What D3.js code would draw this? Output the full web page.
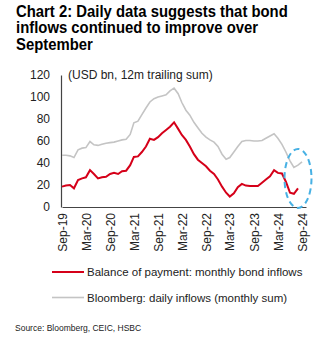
<!DOCTYPE html>
<meta charset="utf-8">
<style>
  body { margin: 0; background: #fff; }
  svg { display: block; font-family: "Liberation Sans", Arial, sans-serif; }
  .title { font-weight: bold; font-size: 16px; fill: #000; }
  .tick text { fill: #222; font-size: 12px; }
</style>
<script src="https://cdn.jsdelivr.net/npm/d3@7"></script>
<body>
<svg></svg>
</body>
<script>

  // monthly points, Sep-19 onwards
  var bopInflows = [18.5, 19.5, 20, 17, 24.5, 26, 27, 33.5, 30, 26, 27, 27.5, 30, 31, 30, 32.5, 33, 38,
    45.5, 46, 50, 55, 62, 61, 63.5, 67, 70, 73, 77, 71, 65.5, 61, 55, 48, 43, 40, 37, 33, 30, 25,
    18.5, 13, 9.5, 12.5, 18, 21, 19.5, 19, 19, 19, 22, 25, 28, 33.5, 31, 30.5, 23, 13, 12, 17];
  var bbgInflows = [47, 47, 46.5, 45, 52, 53.5, 54, 59.5, 56.5, 56, 57, 58, 58.5, 59, 60, 61, 61.5, 66,
    76.5, 78, 84, 90, 95.5, 98.5, 100, 101, 102, 105.5, 108, 103, 95, 88, 83.5, 77, 72, 67, 63.5, 61,
    59, 55, 48, 43.5, 45, 50, 55, 59.5, 60.5, 60.5, 60, 60, 60.5, 62.5, 64.5, 66.5, 62.5, 57, 50,
    42, 36, 38, 41];
  var yTicks = [0, 20, 40, 60, 80, 100, 120];
  var xTickLabels = ["Sep-19", "Mar-20", "Sep-20", "Mar-21", "Sep-21", "Mar-22", "Sep-22", "Mar-23", "Sep-23", "Mar-24", "Sep-24"];
  var legendLabels = ["Balance of payment: monthly bond inflows", "Bloomberg: daily inflows (monthly sum)"];
  var titleLines = ["Chart 2: Daily data suggests that bond", "inflows continued to improve over", "September"];

  var start = new Date(2019, 8, 1);
  function monthDate(i) { return d3.timeMonth.offset(start, i); }

  var svg = d3.select('svg').attr('width', 331).attr('height', 346);

  // title is a bit narrower than plain Arial bold in the original
  svg.append('g')
      .attr('transform', 'translate(16,0) scale(0.93,1)')
      .selectAll('.title').data(titleLines).enter().append('text')
      .attr('class', 'title')
      .attr('x', 0)
      .attr('y', function (d, i) { return 17 + i * 16.5; })
      .text(function (d) { return d; });

  var x = d3.scaleTime().domain([start, monthDate(61)]).range([62, 306]);
  var y = d3.scaleLinear().domain([0, 120]).range([207, 75]);

  // y axis
  var yAxis = svg.append('g')
      .attr('transform', 'translate(61,0)')
      .call(d3.axisLeft(y).tickValues(yTicks).tickSize(0).tickPadding(11));
  yAxis.select('.domain').attr('stroke', '#444').attr('stroke-width', 1.2);
  yAxis.selectAll('.tick text').attr('font-size', 12.5).attr('fill', '#222');

  // x axis
  var xAxis = svg.append('g')
      .attr('transform', 'translate(0,207)')
      .call(d3.axisBottom(x)
          .tickValues(xTickLabels.map(function (d, i) { return monthDate(i * 6); }))
          .tickFormat(function (d, i) { return xTickLabels[i]; })
          .tickSize(0));
  xAxis.select('.domain').attr('stroke', '#444').attr('stroke-width', 1.2);
  xAxis.selectAll('.tick text')
      .attr('transform', 'rotate(-90)')
      .attr('text-anchor', 'end')
      .attr('dy', '0.35em')
      .attr('x', -6)
      .attr('y', 0)
      .attr('font-size', 12.5)
      .attr('fill', '#222');

  svg.append('text')
      .attr('x', 68).attr('y', 79)
      .attr('font-size', 12).attr('fill', '#222')
      .text('(USD bn, 12m trailing sum)');

  var line = d3.line()
      .x(function (d, i) { return x(monthDate(i)); })
      .y(function (d) { return y(d); });

  svg.append('path').datum(bbgInflows)
      .attr('d', line)
      .attr('fill', 'none').attr('stroke', '#c4c4c4').attr('stroke-width', 1.6);

  svg.append('path').datum(bopInflows)
      .attr('d', line)
      .attr('fill', 'none').attr('stroke', '#d50019').attr('stroke-width', 2);

  // highlight ellipse
  svg.append('ellipse')
      .attr('cx', x(monthDate(59.5)))
      .attr('cy', y(26))
      .attr('rx', 13.5).attr('ry', 29.5)
      .attr('fill', 'none').attr('stroke', '#48b1e4').attr('stroke-width', 2)
      .attr('stroke-dasharray', '6,4');

  // legend
  var legendColors = ['#d50019', '#c4c4c4'];
  var lg = svg.selectAll('.lg').data(legendLabels).enter().append('g')
      .attr('class', 'lg')
      .attr('transform', function (d, i) { return 'translate(52,' + (272 + i * 25.5) + ')'; });
  lg.append('line')
      .attr('x1', 0).attr('x2', 32)
      .attr('stroke', function (d, i) { return legendColors[i]; })
      .attr('stroke-width', function (d, i) { return i ? 1.6 : 2; });
  lg.append('text')
      .attr('x', 35).attr('dy', '0.35em')
      .attr('font-size', 11.5).attr('fill', '#222')
      .text(function (d) { return d; });

  svg.append('text')
      .attr('x', 15).attr('y', 331)
      .attr('font-size', 8.5).attr('fill', '#222')
      .text('Source: Bloomberg, CEIC, HSBC');

</script>
</html>
